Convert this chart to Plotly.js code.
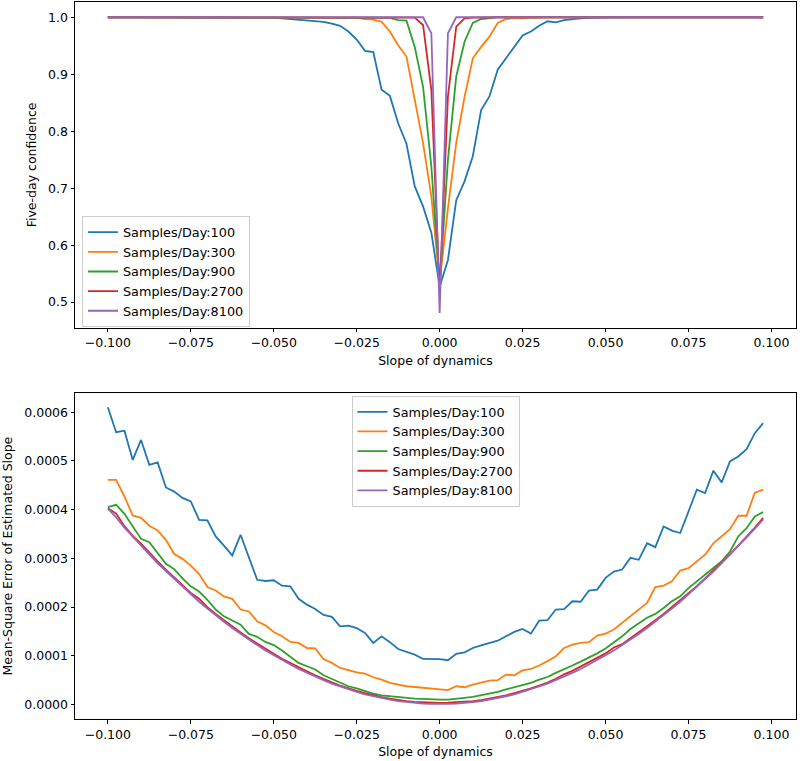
<!DOCTYPE html>
<html><head><meta charset="utf-8">
<script src="https://cdn.plot.ly/plotly-3.0.1.min.js"></script>
<style>html,body{margin:0;padding:0;background:#fff}#chart{width:800px;height:761px}</style>
</head><body><div id="chart"></div>
<script>
// Slope of dynamics (x values)
const slopes = [-0.1000,-0.0975,-0.0950,-0.0925,-0.0900,-0.0875,-0.0850,-0.0825,-0.0800,-0.0775,
-0.0750,-0.0725,-0.0700,-0.0675,-0.0650,-0.0625,-0.0600,-0.0575,-0.0550,-0.0525,
-0.0500,-0.0475,-0.0450,-0.0425,-0.0400,-0.0375,-0.0350,-0.0325,-0.0300,-0.0275,
-0.0250,-0.0225,-0.0200,-0.0175,-0.0150,-0.0125,-0.0100,-0.0075,-0.0050,-0.0025,
0.0000,0.0025,0.0050,0.0075,0.0100,0.0125,0.0150,0.0175,0.0200,0.0225,
0.0250,0.0275,0.0300,0.0325,0.0350,0.0375,0.0400,0.0425,0.0450,0.0475,
0.0500,0.0525,0.0550,0.0575,0.0600,0.0625,0.0650,0.0675,0.0700,0.0725,
0.0750,0.0775,0.0800,0.0825,0.0850,0.0875,0.0900,0.0925,0.0950,0.0975];

const seriesNames = ["Samples/Day:100","Samples/Day:300","Samples/Day:900","Samples/Day:2700","Samples/Day:8100"];
const seriesColors = ["#1f77b4","#ff7f0e","#2ca02c","#d62728","#9467bd"];

// Five-day confidence
const conf100 = [1,1,1,1,1,1,1,1,1,1, 1,1,1,1,1,1,1,1,1,1,
0.999,0.998,0.997,0.996,0.995,0.994,0.992,0.989,0.985,0.975,
0.961,0.941,0.939,0.873,0.862,0.814,0.778,0.703,0.668,0.622,
0.527,0.574,0.679,0.712,0.756,0.837,0.861,0.908,0.928,0.948,
0.968,0.975,0.985,0.993,0.991,0.995,0.997,0.998,0.999,0.9995,
1,1,1,1,1,1,1,1,1,1, 1,1,1,1,1,1,1,1,1,1];
const conf300 = [1,1,1,1,1,1,1,1,1,1, 1,1,1,1,1,1,1,1,1,1, 1,1,1,1,1,1,1,1,1,1,
0.999,0.997,0.996,0.992,0.975,0.951,0.931,0.855,0.779,0.685,
0.535,0.665,0.78,0.86,0.928,0.948,0.966,0.99,0.997,0.9985,0.998,0.999,
1,1,1,1,1,1,1,1,1,1, 1,1,1,1,1,1,1,1,1,1, 1,1,1,1,1,1,1,1];
const conf900 = [1,1,1,1,1,1,1,1,1,1, 1,1,1,1,1,1,1,1,1,1, 1,1,1,1,1,1,1,1,1,1, 1,1,1,1,
0.999,0.995,0.994,0.948,0.878,0.738,
0.53,0.75,0.896,0.957,0.99,0.997,0.999,
1,1,1,1,1,1,1,1,1,1, 1,1,1,1,1,1,1,1,1,1, 1,1,1,1,1,1,1,1,1,1, 1,1,1];
const conf2700 = [1,1,1,1,1,1,1,1,1,1, 1,1,1,1,1,1,1,1,1,1, 1,1,1,1,1,1,1,1,1,1, 1,1,1,1,1,1,1,
0.9995,0.9865,0.8725,
0.52,0.861,0.9835,0.998,0.9995,
1,1,1,1,1,1,1,1,1,1, 1,1,1,1,1,1,1,1,1,1, 1,1,1,1,1,1,1,1,1,1, 1,1,1,1,1];
const conf8100 = [1,1,1,1,1,1,1,1,1,1, 1,1,1,1,1,1,1,1,1,1, 1,1,1,1,1,1,1,1,1,1, 1,1,1,1,1,1,1,1,1,
0.972,0.481,0.972,
1,1,1,1,1,1,1,1,1,1, 1,1,1,1,1,1,1,1,1,1, 1,1,1,1,1,1,1,1,1,1, 1,1,1,1,1,1,1,1];

// Mean-square error of estimated slope, in units of 1e-4
const mse100 = [6.10,5.59,5.62,5.02,5.43,4.92,4.97,4.455,4.37,4.24,
4.17,3.79,3.78,3.45,3.26,3.06,3.485,3.01,2.56,2.535,
2.55,2.44,2.425,2.17,2.05,1.96,1.84,1.80,1.605,1.62,
1.57,1.47,1.265,1.40,1.28,1.14,1.09,1.025,0.935,0.935,
0.93,0.91,1.04,1.07,1.16,1.215,1.265,1.31,1.40,1.49,
1.55,1.455,1.72,1.73,1.95,1.96,2.12,2.11,2.34,2.36,
2.60,2.73,2.77,3.01,2.97,3.31,3.23,3.655,3.57,3.52,
3.96,4.41,4.34,4.80,4.56,4.99,5.09,5.24,5.57,5.775];
const mse300 = [4.61,4.61,4.27,3.88,3.83,3.67,3.575,3.38,3.09,2.99,
2.85,2.68,2.41,2.34,2.22,2.17,1.95,1.91,1.71,1.625,
1.49,1.40,1.285,1.265,1.16,1.15,0.935,0.855,0.75,0.70,
0.66,0.635,0.56,0.51,0.445,0.41,0.375,0.36,0.34,0.32,
0.31,0.295,0.375,0.355,0.41,0.457,0.49,0.50,0.615,0.60,
0.70,0.73,0.80,0.89,0.99,1.16,1.23,1.265,1.28,1.415,
1.455,1.54,1.675,1.80,1.95,2.085,2.41,2.44,2.53,2.75,
2.80,2.94,3.075,3.31,3.45,3.60,3.875,3.875,4.35,4.41];
const mse900 = [4.05,4.10,3.915,3.655,3.40,3.33,3.11,2.89,2.78,2.59,
2.425,2.32,2.15,1.95,1.81,1.72,1.64,1.45,1.39,1.285,
1.22,1.11,0.99,0.855,0.785,0.72,0.60,0.53,0.445,0.375,
0.33,0.27,0.225,0.19,0.17,0.15,0.135,0.12,0.115,0.10,
0.10,0.10,0.11,0.135,0.155,0.185,0.225,0.26,0.31,0.355,
0.395,0.445,0.51,0.565,0.65,0.72,0.80,0.88,0.96,1.05,
1.15,1.27,1.40,1.55,1.66,1.78,1.86,1.98,2.12,2.22,
2.39,2.53,2.665,2.80,2.94,3.14,3.45,3.62,3.86,3.95];
const mse2700 = [4.03,3.92,3.66,3.46,3.30,3.11,2.94,2.77,2.61,2.45,
2.29,2.17,2.00,1.86,1.73,1.60,1.48,1.36,1.25,1.14,
1.04,0.94,0.85,0.76,0.68,0.60,0.52,0.455,0.39,0.33,
0.28,0.235,0.19,0.15,0.12,0.09,0.07,0.055,0.045,0.04,
0.035,0.04,0.045,0.055,0.07,0.09,0.12,0.15,0.19,0.235,
0.28,0.33,0.39,0.45,0.53,0.62,0.69,0.78,0.87,0.96,
1.05,1.17,1.24,1.36,1.48,1.60,1.73,1.86,2.00,2.14,
2.28,2.43,2.59,2.75,2.93,3.08,3.26,3.44,3.63,3.83];
const mse8100 = [4.02,3.84,3.63,3.44,3.26,3.08,2.90,2.74,2.57,2.41,
2.26,2.11,1.97,1.83,1.70,1.57,1.45,1.33,1.22,1.11,
1.01,0.91,0.82,0.73,0.65,0.57,0.50,0.43,0.37,0.31,
0.26,0.21,0.17,0.13,0.10,0.07,0.05,0.03,0.02,0.015,
0.01,0.015,0.02,0.03,0.05,0.07,0.10,0.13,0.17,0.21,
0.26,0.31,0.37,0.43,0.50,0.57,0.65,0.73,0.82,0.91,
1.01,1.11,1.22,1.33,1.45,1.57,1.70,1.83,1.97,2.11,
2.26,2.41,2.57,2.73,2.90,3.07,3.25,3.43,3.61,3.80];

const xTickVals = [-0.1,-0.075,-0.05,-0.025,0,0.025,0.05,0.075,0.1];
const xTickText = ["\u22120.100","\u22120.075","\u22120.050","\u22120.025","0.000","0.025","0.050","0.075","0.100"];
const yTopTickVals = [0.5,0.6,0.7,0.8,0.9,1.0];
const yTopTickText = ["0.5","0.6","0.7","0.8","0.9","1.0"];
const yBotTickVals = [0,0.0001,0.0002,0.0003,0.0004,0.0005,0.0006];
const yBotTickText = ["0.0000","0.0001","0.0002","0.0003","0.0004","0.0005","0.0006"];

const confSeries = [conf100,conf300,conf900,conf2700,conf8100];
const mseSeries = [mse100,mse300,mse900,mse2700,mse8100];

const traces = [];
confSeries.forEach((ys,k)=>{
  traces.push({x:slopes,y:ys,type:'scatter',mode:'lines',name:seriesNames[k],
    line:{color:seriesColors[k],width:1.8},xaxis:'x2',yaxis:'y2',legend:'legend'});
});
mseSeries.forEach((ys,k)=>{
  traces.push({x:slopes,y:ys.map(v=>v*1e-4),type:'scatter',mode:'lines',name:seriesNames[k],
    line:{color:seriesColors[k],width:1.8},xaxis:'x',yaxis:'y',legend:'legend2'});
});

const axisCommon = {ticks:'outside',ticklen:3.5,tickwidth:1,tickcolor:'#000',showline:true,mirror:true,
  linecolor:'#000',linewidth:1,showgrid:false,zeroline:false,automargin:false};
const font = {family:'DejaVu Sans, sans-serif',size:12.5,color:'#000'};
const legFont = {family:'DejaVu Sans, sans-serif',size:12.8,color:'#000'};

const layout = {
  width:800,height:761,paper_bgcolor:'#fff',plot_bgcolor:'#fff',font:font,
  margin:{l:75,r:3.5,t:2,b:41.5},
  xaxis:Object.assign({},axisCommon,{domain:[0,1],anchor:'y',range:[-0.1099,0.1074],
    tickvals:xTickVals,ticktext:xTickText,title:{text:'Slope of dynamics',font:font,standoff:6}}),
  yaxis:Object.assign({},axisCommon,{domain:[0,0.4544],anchor:'x',range:[-0.0000297,0.000639],
    tickvals:yBotTickVals,ticktext:yBotTickText,title:{text:'Mean-Square Error of Estimated Slope',font:font,standoff:8}}),
  xaxis2:Object.assign({},axisCommon,{domain:[0,1],anchor:'y2',range:[-0.1099,0.1074],
    tickvals:xTickVals,ticktext:xTickText,title:{text:'Slope of dynamics',font:font,standoff:6}}),
  yaxis2:Object.assign({},axisCommon,{domain:[0.5456,1],anchor:'x2',range:[0.4549,1.0268],
    tickvals:yTopTickVals,ticktext:yTopTickText,title:{text:'Five-day confidence',font:font,standoff:8}}),
  legend:{x:0.0097,y:0.701,xanchor:'left',yanchor:'top',bgcolor:'rgba(255,255,255,0.8)',
    bordercolor:'#cccccc',borderwidth:1,font:legFont,tracegroupgap:0},
  legend2:{x:0.3835,y:0.4505,xanchor:'left',yanchor:'top',bgcolor:'rgba(255,255,255,0.8)',
    bordercolor:'#cccccc',borderwidth:1,font:legFont,tracegroupgap:0},
  showlegend:true
};

Plotly.newPlot('chart',traces,layout,{displayModeBar:false,staticPlot:true});
</script></body></html>
